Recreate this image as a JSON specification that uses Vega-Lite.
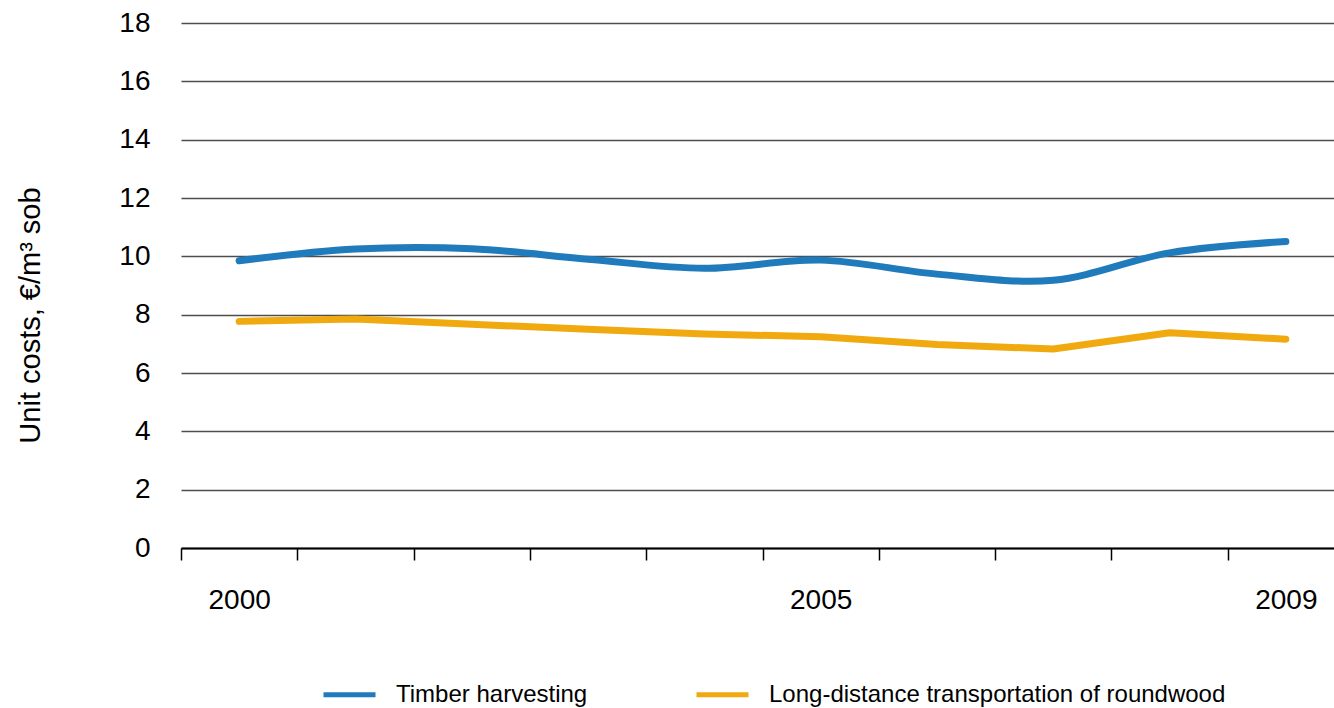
{
  "$schema": "https://vega.github.io/schema/vega-lite/v6.json",
  "width": 1153,
  "height": 525,
  "autosize": {"type": "none"},
  "padding": {"left": 181, "top": 23, "right": 0, "bottom": 160},
  "background": "white",
  "config": {
    "view": {"stroke": null},
    "font": "Liberation Sans"
  },
  "data": {
    "values": [
      {"year": 2000, "series": "Timber harvesting", "cost": 9.85},
      {"year": 2001, "series": "Timber harvesting", "cost": 10.25},
      {"year": 2002, "series": "Timber harvesting", "cost": 10.26},
      {"year": 2003, "series": "Timber harvesting", "cost": 9.9},
      {"year": 2004, "series": "Timber harvesting", "cost": 9.59},
      {"year": 2005, "series": "Timber harvesting", "cost": 9.87},
      {"year": 2006, "series": "Timber harvesting", "cost": 9.39},
      {"year": 2007, "series": "Timber harvesting", "cost": 9.18},
      {"year": 2008, "series": "Timber harvesting", "cost": 10.12},
      {"year": 2009, "series": "Timber harvesting", "cost": 10.51},
      {"year": 2000, "series": "Long-distance transportation of roundwood", "cost": 7.77},
      {"year": 2001, "series": "Long-distance transportation of roundwood", "cost": 7.85},
      {"year": 2002, "series": "Long-distance transportation of roundwood", "cost": 7.67},
      {"year": 2003, "series": "Long-distance transportation of roundwood", "cost": 7.5},
      {"year": 2004, "series": "Long-distance transportation of roundwood", "cost": 7.34},
      {"year": 2005, "series": "Long-distance transportation of roundwood", "cost": 7.24},
      {"year": 2006, "series": "Long-distance transportation of roundwood", "cost": 6.98},
      {"year": 2007, "series": "Long-distance transportation of roundwood", "cost": 6.82},
      {"year": 2008, "series": "Long-distance transportation of roundwood", "cost": 7.38},
      {"year": 2009, "series": "Long-distance transportation of roundwood", "cost": 7.16}
    ]
  },
  "encoding": {
    "x": {
      "field": "year",
      "type": "ordinal",
      "bandPosition": 0.5,
      "scale": {"type": "band", "paddingInner": 0, "paddingOuter": 0, "range": [0, 1163]},
      "axis": {
        "title": null,
        "tickBand": "extent",
        "labelAngle": 0,
        "labelExpr": "indexof(['2000','2005','2009'], datum.label) >= 0 ? datum.label : ''",
        "labelFontSize": 28,
        "labelColor": "#000000",
        "labelPadding": 26,
        "tickSize": 12,
        "tickColor": "#000000",
        "tickWidth": 1.5,
        "domainColor": "#000000",
        "domainWidth": 2,
        "grid": false
      }
    },
    "y": {
      "field": "cost",
      "type": "quantitative",
      "scale": {"domain": [0, 18], "nice": false, "zero": true},
      "axis": {
        "values": [0, 2, 4, 6, 8, 10, 12, 14, 16, 18],
        "title": "Unit costs,  €/m³ sob",
        "titleFontSize": 29,
        "titleFontWeight": "normal",
        "titleColor": "#000000",
        "titleAngle": -90,
        "titleX": -151,
        "titleY": 292,
        "titleAlign": "center",
        "titleBaseline": "middle",
        "labelFontSize": 28,
        "labelColor": "#000000",
        "labelPadding": 31,
        "ticks": false,
        "domain": false,
        "grid": true,
        "gridColor": "#4d4d4d",
        "gridWidth": 1.4
      }
    },
    "color": {
      "field": "series",
      "type": "nominal",
      "scale": {
        "domain": ["Timber harvesting", "Long-distance transportation of roundwood"],
        "range": ["#1f7bbb", "#f0aa0f"]
      },
      "legend": {
        "title": null,
        "orient": "none",
        "direction": "horizontal",
        "legendX": 140,
        "legendY": 643,
        "symbolType": "stroke",
        "symbolSize": 2704,
        "symbolStrokeWidth": 5,
        "labelFontSize": 24,
        "labelColor": "#000000",
        "labelOffset": 18,
        "columnPadding": 98,
        "labelLimit": 1000
      }
    }
  },
  "layer": [
    {
      "transform": [{"filter": "datum.series === 'Timber harvesting'"}],
      "mark": {"type": "line", "strokeWidth": 7, "strokeCap": "round", "interpolate": "catmull-rom"}
    },
    {
      "transform": [{"filter": "datum.series !== 'Timber harvesting'"}],
      "mark": {"type": "line", "strokeWidth": 7, "strokeCap": "round", "strokeJoin": "round"}
    }
  ]
}
